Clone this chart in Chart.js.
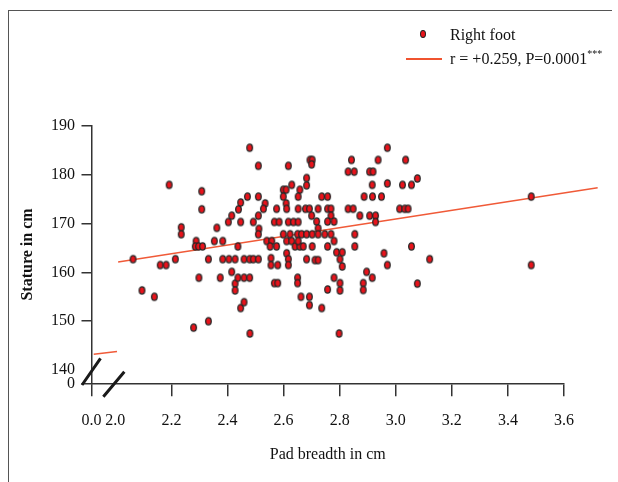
<!DOCTYPE html>
<html>
<head>
<meta charset="utf-8">
<script src="https://cdn.jsdelivr.net/npm/chart.js@4"></script>
<style>
  html, body { margin: 0; padding: 0; background: #fff; }
  #wrap { position: relative; width: 618px; height: 482px; }
  #frame { position: absolute; left: 8px; top: 10px; width: 604px; height: 472px;
           border-left: 1.5px solid #555; border-top: 1.5px solid #555; box-sizing: border-box; }
  .lg { position: absolute; font: 16px 'Liberation Serif', 'Times New Roman', serif; color: #111;
        white-space: nowrap; line-height: 20px; }
  #dot { position: absolute; left: 420px; top: 30px; width: 6px; height: 8px; border-radius: 50%;
         background: #e8131b; border: 1.2px solid #222; box-sizing: border-box; }
  #ln { position: absolute; left: 406px; top: 58px; width: 36px; height: 2px; background: #f0532f; }
  sup { font-size: 10px; line-height: 0; vertical-align: 7px; }
</style>
</head>
<body>
<div id="wrap">
  <canvas id="chart" width="618" height="482"></canvas>
  <div id="frame"></div>
  <div id="dot"></div>
  <div class="lg" style="left:450px; top:25px;">Right foot</div>
  <div id="ln"></div>
  <div class="lg" style="left:450px; top:49px;">r = +0.259, P=0.0001<sup>***</sup></div>
</div>
<script>
// pad breadth (cm) and stature (cm), right foot
var padBreadth = [
  2.063, 2.095, 2.139, 2.160, 2.181, 2.192, 2.214, 2.235, 2.235, 2.279,
  2.288, 2.285, 2.297, 2.311, 2.298, 2.308, 2.308, 2.332, 2.332, 2.353,
  2.362, 2.374, 2.383, 2.383, 2.403, 2.405, 2.415, 2.415, 2.427, 2.427,
  2.427, 2.437, 2.437, 2.439, 2.447, 2.447, 2.447, 2.459, 2.459, 2.459,
  2.471, 2.479, 2.479, 2.479, 2.480, 2.492, 2.492, 2.510, 2.510, 2.510,
  2.512, 2.510, 2.510, 2.617, 2.629, 2.599, 2.609, 2.599, 2.658, 2.652,
  2.609, 2.534, 2.528, 2.575, 2.611, 2.652, 2.678, 2.692, 2.567, 2.584,
  2.617, 2.635, 2.652, 2.540, 2.558, 2.599, 2.623, 2.650, 2.664, 2.682,
  2.552, 2.575, 2.611, 2.629, 2.641, 2.658, 2.652, 2.670, 2.611, 2.555,
  2.555, 2.579, 2.617, 2.617, 2.682, 2.567, 2.579, 2.650, 2.650, 2.662,
  2.692, 2.692, 2.694, 2.702, 2.700, 2.842, 2.830, 2.852, 2.682, 2.682,
  2.736, 2.757, 2.723, 2.757, 2.769, 2.830, 2.848, 2.700, 2.718, 2.723,
  2.769, 2.757, 2.780, 2.872, 2.702, 2.723, 2.747, 2.769, 2.780, 2.854,
  2.702, 2.757, 2.854, 2.789, 2.809, 2.712, 2.723, 2.801, 2.809, 2.780,
  2.801, 2.801, 2.757, 2.736, 2.798, 2.970, 2.937, 3.035, 2.907, 2.919,
  2.916, 2.970, 3.024, 3.056, 3.077, 2.887, 2.917, 2.949, 3.014, 3.032,
  3.044, 2.907, 2.928, 2.928, 2.958, 2.970, 2.896, 2.916, 2.884, 2.884,
  3.056, 3.077, 3.121, 3.483, 3.483
];
var stature = [
  162.7, 156.3, 155.0, 161.5, 161.5, 177.9, 162.7, 169.2, 167.8, 148.7,
  166.4, 165.3, 165.3, 165.3, 158.9, 176.6, 172.9, 162.7, 150.0, 166.4,
  169.1, 158.9, 166.4, 162.7, 170.3, 162.7, 171.6, 160.1, 162.7, 157.7,
  156.3, 165.3, 158.9, 172.9, 174.3, 170.3, 152.7, 162.7, 158.9, 153.9,
  175.5, 185.5, 162.7, 158.9, 147.5, 170.3, 162.7, 181.8, 175.5, 171.6,
  168.9, 167.8, 162.7, 181.8, 177.9, 176.9, 176.9, 175.5, 176.9, 175.5,
  174.1, 174.1, 173.0, 173.0, 173.0, 173.0, 173.0, 173.0, 170.3, 170.3,
  170.3, 170.3, 170.3, 166.4, 166.4, 167.8, 167.8, 167.8, 167.8, 167.8,
  165.3, 165.3, 166.4, 166.4, 165.3, 165.3, 166.4, 165.3, 163.9, 162.9,
  161.5, 161.5, 162.7, 161.5, 162.7, 157.8, 157.8, 158.9, 157.8, 155.0,
  155.0, 153.3, 183.0, 183.0, 182.1, 183.0, 180.6, 180.6, 179.3, 177.8,
  175.5, 175.5, 173.0, 173.0, 173.0, 173.0, 173.0, 171.6, 170.4, 169.0,
  171.6, 170.4, 170.4, 171.6, 167.8, 167.8, 167.8, 167.8, 166.4, 167.8,
  165.3, 165.3, 165.3, 164.1, 164.1, 162.5, 162.5, 162.7, 161.2, 158.9,
  157.8, 156.3, 156.5, 152.7, 147.5, 185.5, 183.0, 183.0, 180.6, 180.6,
  177.9, 178.2, 177.9, 177.9, 179.2, 175.5, 175.5, 175.5, 173.0, 173.0,
  173.0, 171.6, 171.6, 170.3, 163.9, 161.5, 160.1, 158.9, 157.8, 156.4,
  165.3, 157.7, 162.7, 175.5, 161.5
];

// regression line r = +0.259 (main part and the piece drawn in the axis break)
var fitX = [2.01, 3.72];
var fitY = [162.1, 177.3];
var breakFitX = [1.923, 2.006];
var breakFitY = [143.25, 143.8];

// broken axes: the first tick stands for 0
var xTickValues = [1.915, 2.0, 2.2, 2.4, 2.6, 2.8, 3.0, 3.2, 3.4, 3.6];
var xTickLabels = ['0.0', '2.0', '2.2', '2.4', '2.6', '2.8', '3.0', '3.2', '3.4', '3.6'];
var yTickValues = [137.3, 140, 150, 160, 170, 180, 190];
var yTickLabels = ['0', '140', '150', '160', '170', '180', '190'];

var serif = "'Liberation Serif', 'Times New Roman', serif";

function toPoints(xs, ys) {
  var pts = [];
  for (var i = 0; i < xs.length; i++) pts.push({ x: xs[i], y: ys[i] });
  return pts;
}

// slightly tall red dot with a dark rim
var dot = document.createElement('canvas');
dot.width = 9; dot.height = 11;
var dctx = dot.getContext('2d');
dctx.beginPath();
dctx.ellipse(4.5, 5.5, 2.8, 3.6, 0, 0, Math.PI * 2);
dctx.fillStyle = '#e8131b';
dctx.fill();
dctx.lineWidth = 1.3;
dctx.strokeStyle = '#262626';
dctx.stroke();

var breakMarks = {
  id: 'breakMarks',
  afterDraw: function(chart) {
    var ctx = chart.ctx, a = chart.chartArea;
    var px = chart.scales.x.getPixelForValue(2.0);
    ctx.save();
    ctx.strokeStyle = '#1a1a1a';
    ctx.lineWidth = 3;
    ctx.beginPath();
    ctx.moveTo(a.left - 9.5, a.bottom + 1.7);
    ctx.lineTo(a.left + 9, a.bottom - 25);
    ctx.moveTo(px - 12, a.bottom + 13.5);
    ctx.lineTo(px + 9, a.bottom - 11.5);
    ctx.stroke();
    ctx.restore();
  }
};

var hideAt = function(v) {
  return function(c) { return (c.tick && c.tick.value === v) ? 'rgba(0,0,0,0)' : '#333'; };
};

new Chart(document.getElementById('chart'), {
  type: 'scatter',
  data: {
    datasets: [{
      label: 'Right foot',
      data: toPoints(padBreadth, stature),
      pointStyle: dot,
      pointRadius: 4,
      order: 0
    }, {
      type: 'line',
      label: 'r = +0.259, P=0.0001',
      data: toPoints(fitX, fitY),
      borderColor: '#f05a38',
      borderWidth: 1.5,
      pointRadius: 0,
      clip: false,
      order: 1
    }, {
      type: 'line',
      label: 'break',
      data: toPoints(breakFitX, breakFitY),
      borderColor: '#f05a38',
      borderWidth: 1.5,
      pointRadius: 0,
      clip: false,
      order: 1
    }]
  },
  options: {
    responsive: false,
    animation: false,
    devicePixelRatio: 1,
    layout: { padding: { left: 12, top: 125.7, right: 54, bottom: 12 } },
    plugins: { legend: { display: false }, tooltip: { enabled: false } },
    scales: {
      x: {
        type: 'linear',
        min: 1.915,
        max: 3.6,
        afterBuildTicks: function(s) { s.ticks = xTickValues.map(function(v) { return { value: v }; }); },
        afterFit: function(s) { s.height = 86.7; },
        ticks: {
          autoSkip: false, maxRotation: 0, padding: 15, color: '#111',
          font: { family: serif, size: 16 },
          callback: function(v, i) { return xTickLabels[i]; }
        },
        grid: { drawOnChartArea: false, tickLength: 13, lineWidth: 1.5, tickColor: hideAt(2.0) },
        border: { color: '#333', width: 1.5 },
        title: {
          display: true, text: 'Pad breadth in cm', color: '#111',
          font: { family: serif, size: 16 }, padding: { top: 0, bottom: 5.4 }
        }
      },
      y: {
        type: 'linear',
        min: 137.3,
        max: 190,
        afterBuildTicks: function(s) { s.ticks = yTickValues.map(function(v) { return { value: v }; }); },
        afterFit: function(s) { s.width = 79.5; },
        ticks: {
          autoSkip: false, padding: 6.5, color: '#111',
          font: { family: serif, size: 16 },
          callback: function(v, i) { return yTickLabels[i]; }
        },
        grid: { drawOnChartArea: false, tickLength: 10, lineWidth: 1.5, tickColor: hideAt(140) },
        border: { color: '#333', width: 1.5 },
        title: {
          display: true, text: 'Stature in cm', color: '#111',
          font: { family: serif, size: 16, weight: 'bold' }, padding: { top: 6.4, bottom: 0 }
        }
      }
    }
  },
  plugins: [breakMarks]
});
</script>
</body>
</html>
